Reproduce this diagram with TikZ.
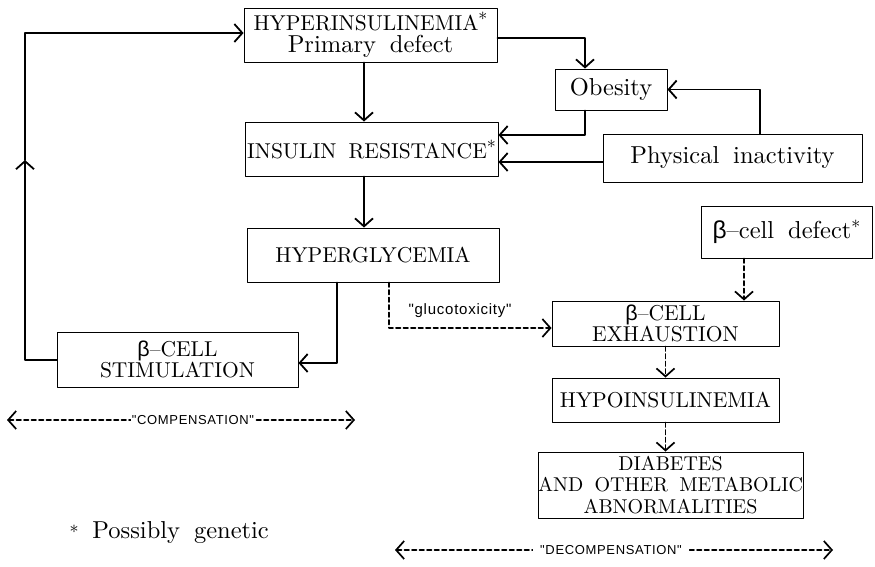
\documentclass[tikz,border=0pt]{standalone}
\usepackage{fontspec}
\usepackage{tikz}
\usetikzlibrary{arrows.meta}
\setmainfont{lmroman10-regular}[Extension=.otf,WordSpace=1.7]
\newfontfamily\lblfont[LetterSpace=5]{Liberation Sans}
\newfontfamily\grkfont{Liberation Sans}
\newcommand{\capsize}{\fontsize{21.5}{21}\selectfont}
\newcommand{\lowsize}{\fontsize{24.5}{26}\selectfont}
\newcommand{\bcell}{{\grkfont β}--}
\newcommand{\gen}{\raisebox{5pt}{\fontsize{18}{18}\selectfont\bfseries *}}
\tikzstyle{box}=[draw,line width=0.9pt,align=center,inner sep=0pt,font=\capsize]
\tikzstyle{conn}=[line width=1.8pt]
\tikzstyle{dconn}=[line width=1.7pt,dash pattern=on 4.5pt off 3pt]
\tikzstyle{lbl}=[font=\lblfont\fontsize{13}{13}\selectfont,fill=white]

\begin{document}
\begin{tikzpicture}[line cap=round,line join=round,>={Straight Barb[length=8pt,width=18pt]},x=1pt,y=-1pt]
\useasboundingbox (0,0) rectangle (875,566);
% boxes
\node[box,minimum width=253pt,minimum height=54pt] (hyper) at (370.5,35) {HYPERINSULINEMIA\gen\\[1pt]{\lowsize Primary defect}};
\node[box,minimum width=112pt,minimum height=41pt,font=\lowsize] (obesity) at (611,89.5) {Obesity};
\node[box,minimum width=253pt,minimum height=54pt] (insres) at (371.5,149) {INSULIN RESISTANCE\gen};
\node[box,minimum width=259pt,minimum height=48pt,font=\lowsize] (phys) at (732.5,158) {Physical inactivity};
\node[box,minimum width=252pt,minimum height=54pt] (hypergly) at (373,255) {HYPERGLYCEMIA};
\node[box,minimum width=171pt,minimum height=52pt,font=\lowsize] (defect) at (786.5,232) {\bcell cell defect\gen};
\node[box,minimum width=227pt,minimum height=45pt] (exhaust) at (665.5,323.5) {\bcell CELL\\EXHAUSTION};
\node[box,minimum width=227pt,minimum height=44pt] (hypoins) at (665.5,400) {HYPOINSULINEMIA};
\node[box,minimum width=265pt,minimum height=66pt,font=\fontsize{20}{21.5}\selectfont] (diab) at (670.5,485) {DIABETES\\AND OTHER METABOLIC\\ABNORMALITIES};
\node[box,minimum width=241pt,minimum height=55pt] (stim) at (177.5,359.5) {\bcell CELL\\STIMULATION};
\node[anchor=west,font=\lowsize] (note) at (66,533) {{\fontsize{18}{18}\selectfont\bfseries *} Possibly genetic};
% loop back to the top
\coordinate (lpbot) at (25,360);
\coordinate (lpmid) at (25,160);
\coordinate (lptop) at (25,33);
\coordinate (spine) at (364,0);
\draw[conn,->] (stim.west |- lpbot) -- (lpbot) -- (lpmid);
\draw[conn,->] (lpmid) -- (lptop) -- (hyper.west |- lptop);
% compensation side
\draw[conn,->] (hyper.south -| spine) -- (insres.north -| spine);
\draw[conn,->] ([yshift=-3pt]hyper.east) -| ([xshift=-26pt]obesity.north);
\draw[conn,->] ([xshift=-26pt]obesity.south) |- ([yshift=14pt]insres.east);
\draw[conn,->] ([yshift=-4pt]phys.west) -- ([yshift=-13pt]insres.east);
\draw[conn,->] ([xshift=27.5pt]phys.north) |- (obesity.east);
\draw[conn,->] (insres.south -| spine) -- (hypergly.north -| spine);
\draw[conn,->] ([xshift=-36pt]hypergly.south) |- ([yshift=-3.5pt]stim.east);
% decompensation side
\draw[dconn,->] ([xshift=16pt]hypergly.south) |- ([yshift=-4.5pt]exhaust.west);
\node[font=\lblfont\fontsize{15}{15}\selectfont] (gluco) at (460,311) {"glucotoxicity"};
\draw[dconn,->] ([xshift=-42.5pt]defect.south) -- ([xshift=-42.5pt]defect.south |- exhaust.north);
\draw[dconn,->] (exhaust.south) -- (hypoins.north);
\draw[dconn,->] (hypoins.south) -- (hypoins.south |- diab.north);
% phase arrows
\coordinate (cl) at (7,420);
\coordinate (cr) at (355,420);
\draw[dconn,<->] (cl) -- (cr);
\node[lbl,inner xsep=1pt] (comp) at (193,420) {"COMPENSATION"};
\coordinate (dl) at (395,550);
\coordinate (dr) at (833,550);
\draw[dconn,<->] (dl) -- (dr);
\node[lbl,inner xsep=7pt] (decomp) at (611,550) {"DECOMPENSATION"};
\end{tikzpicture}
\end{document}
